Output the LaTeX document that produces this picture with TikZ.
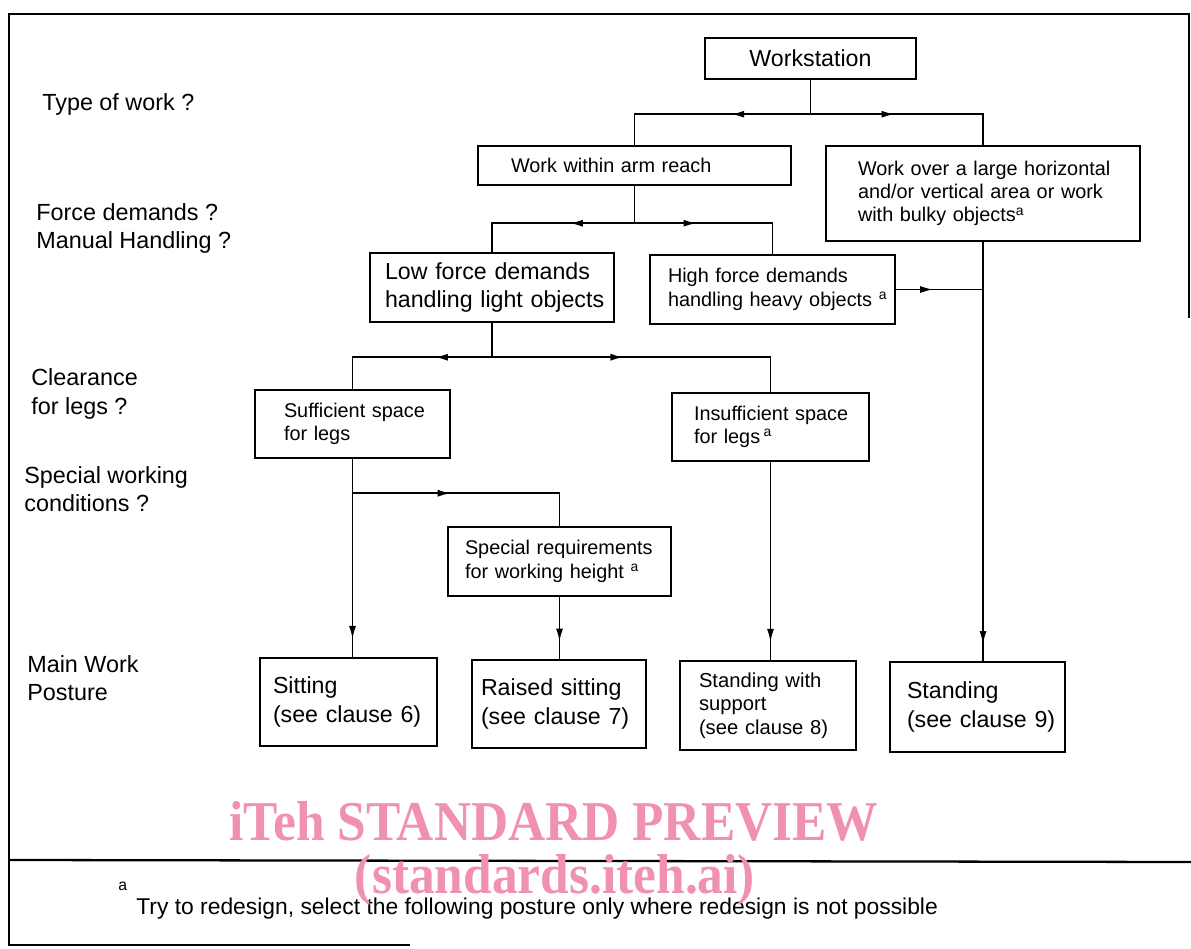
\documentclass[tikz,border=0pt]{standalone}
\usepackage{fontspec}
\setmainfont{Liberation Sans}
\newfontfamily\wmfont[FakeStretch=0.915]{Liberation Serif}
\usetikzlibrary{arrows.meta,decorations.markings}
\definecolor{wmpink}{RGB}{240,145,175}
\newcommand\mkbox[8]{%
 \pgfmathsetlengthmacro\mkw{(#4-#2)*0.02cm}%
 \pgfmathsetlengthmacro\mkh{(#5-#3)*0.02cm}%
 \pgfmathsetlengthmacro\mkt{(#4-#2-2*#6)*0.02cm}%
 \node[box,#7,minimum width=\mkw,minimum height=\mkh,text width=\mkt] (#1) at ({(#2+#4)/2},{(#3+#5)/2}) {#8};}
\begin{document}
\begin{tikzpicture}[x=0.02cm,y=-0.02cm,
 box/.style={draw,line width=1.4pt,inner sep=0pt,align=left,font=\fontsize{11.3}{13.3}\selectfont},
 bigfont/.style={font=\fontsize{13.2}{16}\selectfont},
 midfont/.style={font=\fontsize{11.5}{13.3}\selectfont},
 conn/.style={line width=0.9pt},
 midtip/.style={postaction={decorate},decoration={markings,mark=at position #1 with {\arrow{Latex[length=2.6mm,width=1.4mm]}}}},
 lab/.style={anchor=west,align=left,inner sep=0pt,font=\fontsize{13.3}{16}\selectfont},
 outline/.style={line width=1.3pt},
]
\useasboundingbox (0,0) rectangle (1191,949);
% frame
\draw[outline] (1189,318) -- (1189,14) -- (9,14) -- (9,945) -- (410,945);
\draw[outline] (9,860) -- (1191,862);
% boxes
\mkbox{ws}{705}{38}{916}{79}{5}{bigfont,align=center}{Workstation}
\mkbox{arm}{478}{146}{791}{185}{33}{}{\mbox{Work within arm reach}}
\mkbox{large}{826}{146}{1140}{241}{32}{}{\mbox{Work over a large horizontal}\\\mbox{and/or vertical area or work}\\\mbox{with bulky objects\textsuperscript{a}}}
\mkbox{low}{370}{253}{614}{322}{15}{bigfont}{\mbox{Low force demands}\\\mbox{handling light objects}}
\mkbox{high}{650}{255}{895}{324}{18}{}{\mbox{High force demands}\\\mbox{handling heavy objects~\textsuperscript{a}}}
\mkbox{suff}{255}{390}{450}{458}{29}{}{\mbox{Sufficient space}\\\mbox{for legs}}
\mkbox{insuff}{672}{393}{869}{461}{22}{}{\mbox{Insufficient space}\\\mbox{for legs\,\textsuperscript{a}}}
\mkbox{spec}{448}{527}{671}{596}{17}{}{\mbox{Special requirements}\\\mbox{for working height~\textsuperscript{a}}}
\mkbox{sit}{260}{658}{437}{746}{13}{bigfont}{\mbox{Sitting}\\\mbox{(see clause 6)}}
\mkbox{raised}{472}{660}{646}{748}{9}{bigfont}{\mbox{Raised sitting}\\\mbox{(see clause 7)}}
\mkbox{supp}{680}{661}{856}{750}{19}{midfont}{\mbox{Standing with}\\\mbox{support}\\\mbox{(see clause 8)}}
\mkbox{stand}{890}{662}{1065}{752}{17}{bigfont}{\mbox{Standing}\\\mbox{(see clause 9)}}
% connectors
\path (ws.south) ++(0,34) coordinate (j1);
\draw[conn] (ws.south) -- (j1);
\draw[conn,midtip=0.384] (j1) -| (arm.north);
\draw[conn,midtip=0.414] (j1) -| (large.north);
\path (arm.south) ++(0,37) coordinate (j2);
\draw[conn] (arm.south) -- (j2);
\draw[conn,midtip=0.378] (j2) -| (low.north);
\draw[conn,midtip=0.368] (j2) -| (high.north);
\draw[conn,midtip=0.96] (large.south) -- (large.south |- stand.north);
\draw[conn,midtip=0.425] (high.east) -- (high.east -| large.south);
\path (low.south) ++(0,34) coordinate (j3);
\draw[conn] (low.south) -- (j3);
\draw[conn,midtip=0.334] (j3) -| (suff.north);
\draw[conn,midtip=0.42] (j3) -| (insuff.north);
\draw[conn,midtip=0.91] (suff.south) -- (suff.south |- sit.north);
\path (suff.south) ++(0,34) coordinate (j4);
\draw[conn,midtip=0.41] (j4) -| (spec.north);
\draw[conn,midtip=0.72] (spec.south) -- (spec.south |- raised.north);
\draw[conn,midtip=0.91] (insuff.south) -- (insuff.south |- supp.north);
% question labels
\node[lab] (q1) at (42,104) {Type of work ?};
\node[lab] (q2) at (36,228.5) {Force demands ?\\Manual Handling ?};
\node[lab] (q3) at (31,394) {Clearance\\for legs ?};
\node[lab] (q4) at (24,489) {Special working\\conditions ?};
\node[lab] (q5) at (27,678.5) {Main Work\\Posture};
% footnote
\node[anchor=base west,inner sep=0pt,font=\fontsize{9}{10}\selectfont] (fna) at (118,890) {a};
\node[anchor=base west,inner sep=0pt,font=\fontsize{13}{15}\selectfont] (fn) at (136,914) {Try to redesign, select the following posture only where redesign is not possible};
% watermark
\node[anchor=base,inner sep=0pt,text=wmpink,font=\wmfont\bfseries\fontsize{32}{36}\selectfont] (wm1) at (554,840) {iTeh STANDARD PREVIEW};
\node[anchor=base,inner sep=0pt,text=wmpink,font=\wmfont\bfseries\fontsize{32}{36}\selectfont] (wm2) at (555,893) {(standards.iteh.ai)};
\end{tikzpicture}
\end{document}
